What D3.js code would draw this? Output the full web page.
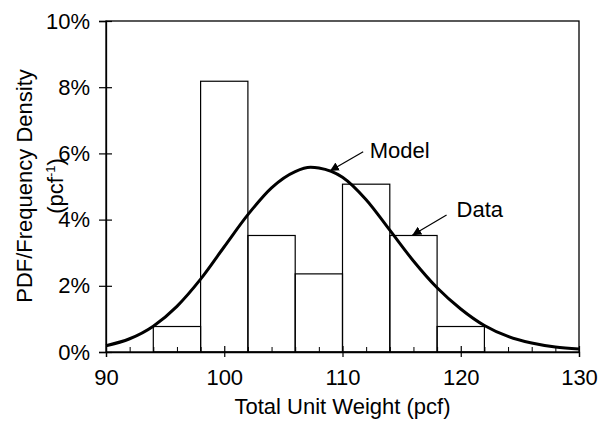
<!DOCTYPE html>
<html>
<head>
<meta charset="utf-8">
<script src="https://cdn.jsdelivr.net/npm/d3@7"></script>
<style>
  body { margin: 0; background: #fff; }
  text { font-family: "Liberation Sans", Arial, sans-serif; fill: #000; }
</style>
</head>
<body>
<svg id="canvas" width="599" height="426"></svg>
<script>
(function() {

    // histogram bins (pcf) and frequency density (per pcf)
    var binLo = [94, 98, 102, 106, 110, 114, 118];
    var binHi = [98, 102, 106, 110, 114, 118, 122];
    var density = [0.0077, 0.0818, 0.0352, 0.0236, 0.0507, 0.0352, 0.0077];

    // model pdf
    var modelX = [90, 92, 94, 96, 98, 100, 102, 104, 106, 107.3, 108, 110, 112, 114, 116, 118, 120, 122, 124, 126, 128, 130];
    var modelY = [0.0019, 0.0040, 0.0078, 0.0138, 0.0220, 0.0318, 0.0415, 0.0496, 0.0545, 0.0558, 0.0556, 0.0528, 0.0460, 0.0368, 0.0275, 0.0194, 0.0130, 0.0080, 0.0047, 0.0027, 0.0015, 0.0009];

    var xTicks = [90, 100, 110, 120, 130];
    var xMinor = [92, 94, 96, 98, 102, 104, 106, 108, 112, 114, 116, 118, 122, 124, 126, 128];
    var yTicks = [0, 0.02, 0.04, 0.06, 0.08, 0.10];

    var x = d3.scaleLinear().domain([90, 130]).range([106, 579]);
    var y = d3.scaleLinear().domain([0, 0.10]).range([352, 21]);

    var svg = d3.select("#canvas");
    var fs = 22;

    // plot frame
    svg.append("rect")
      .attr("x", x(90)).attr("y", y(0.10))
      .attr("width", x(130) - x(90)).attr("height", y(0) - y(0.10))
      .attr("fill", "none").attr("stroke", "black").attr("stroke-width", 1.3);

    // bars
    svg.append("g")
      .selectAll("rect")
      .data(density)
      .join("rect")
      .attr("x", (d, i) => x(binLo[i]))
      .attr("width", (d, i) => x(binHi[i]) - x(binLo[i]))
      .attr("y", d => y(d))
      .attr("height", d => y(0) - y(d))
      .attr("fill", "none")
      .attr("stroke", "black")
      .attr("stroke-width", 1.2);

    // model curve
    var line = d3.line()
      .x(d => x(d[0]))
      .y(d => y(d[1]))
      .curve(d3.curveMonotoneX);
    svg.append("path")
      .datum(modelX.map((v, i) => [v, modelY[i]]))
      .attr("d", line)
      .attr("fill", "none")
      .attr("stroke", "black")
      .attr("stroke-width", 3);

    // x axis
    var xAxis = svg.append("g")
      .attr("transform", "translate(0," + y(0) + ")")
      .call(d3.axisBottom(x).tickValues(xTicks).tickSize(5).tickFormat(d3.format("d")));
    xAxis.select(".domain").attr("stroke-width", 1.3);
    xAxis.selectAll(".tick line").attr("y1", -6).attr("y2", 5).attr("stroke-width", 1.2);
    xAxis.selectAll(".tick text")
      .attr("y", 33).attr("dy", null)
      .style("font-size", fs + "px").style("font-family", "Liberation Sans, Arial, sans-serif");

    svg.append("g")
      .attr("transform", "translate(0," + y(0) + ")")
      .call(d3.axisBottom(x).tickValues(xMinor).tickSize(-5).tickFormat(""))
      .call(g => g.select(".domain").remove())
      .selectAll(".tick line").attr("stroke-width", 1);

    // y axis
    var yAxis = svg.append("g")
      .attr("transform", "translate(" + x(90) + ",0)")
      .call(d3.axisLeft(y).tickValues(yTicks).tickSize(7).tickFormat(d3.format(".0%")));
    yAxis.select(".domain").attr("stroke-width", 1.3);
    yAxis.selectAll(".tick line").attr("x1", 6).attr("x2", -7).attr("stroke-width", 1.2);
    yAxis.selectAll(".tick text")
      .attr("x", -16)
      .style("font-size", fs + "px").style("font-family", "Liberation Sans, Arial, sans-serif");

    // axis titles
    svg.append("text")
      .attr("x", (x(90) + x(130)) / 2)
      .attr("y", 414)
      .attr("text-anchor", "middle")
      .style("font-size", fs + "px")
      .text("Total Unit Weight (pcf)");

    var yt = svg.append("text")
      .attr("transform", "translate(32,186) rotate(-90)")
      .attr("text-anchor", "middle")
      .style("font-size", fs + "px");
    yt.append("tspan").attr("x", 0).attr("y", 0).text("PDF/Frequency Density");
    yt.append("tspan").attr("x", 0).attr("y", 31).text("(pcf");
    yt.append("tspan").attr("dy", -8).style("font-size", "13px").text("-1");
    yt.append("tspan").attr("dy", 8).text(")");

    // annotations
    svg.append("defs").append("marker")
      .attr("id", "head")
      .attr("viewBox", "0 0 10 10")
      .attr("refX", 10).attr("refY", 5)
      .attr("markerWidth", 9).attr("markerHeight", 9)
      .attr("markerUnits", "userSpaceOnUse")
      .attr("orient", "auto")
      .append("path").attr("d", "M0,0L10,5L0,10z").attr("fill", "black");

    var notes = [
      { label: "Model", tail: [111.75, 0.0605], tip: [108.93, 0.0547], pos: [112.3, 0.0586] },
      { label: "Data", tail: [118.8, 0.0414], tip: [115.9, 0.0353], pos: [119.65, 0.0407] }
    ];
    notes.forEach(function(n) {
      svg.append("line")
        .attr("x1", x(n.tail[0])).attr("y1", y(n.tail[1]))
        .attr("x2", x(n.tip[0])).attr("y2", y(n.tip[1]))
        .attr("stroke", "black").attr("stroke-width", 1.2)
        .attr("marker-end", "url(#head)");
      svg.append("text")
        .attr("x", x(n.pos[0])).attr("y", y(n.pos[1]))
        .style("font-size", fs + "px")
        .text(n.label);
    });

})();
</script>
</body>
</html>
